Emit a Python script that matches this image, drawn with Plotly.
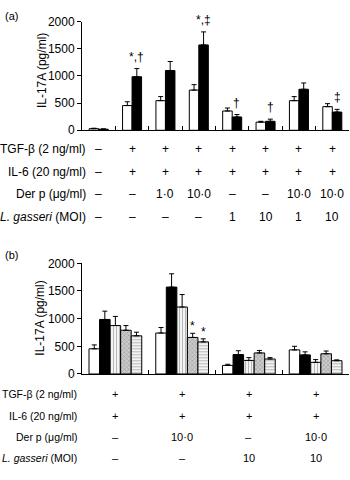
import plotly.graph_objects as go

W, H = 350, 480
FONT = "Liberation Sans, Arial, sans-serif"

# ---------------- Data: panel (a) ----------------
groups_a = [0, 1, 2, 3, 4, 5, 6, 7]
white_a = [30, 455, 545, 740, 355, 150, 545, 435]
white_a_err = [8, 70, 75, 100, 55, 15, 75, 55]
black_a = [20, 985, 1100, 1570, 245, 165, 755, 335]
black_a_err = [6, 150, 165, 240, 45, 40, 115, 50]
sig_a = ["", "*,†", "", "*,‡", "†", "†", "", "‡"]

tgf_a = ["–", "+", "+", "+", "+", "+", "+", "+"]
il6_a = ["–", "+", "+", "+", "+", "+", "+", "+"]
derp_a = ["–", "–", "1·0", "10·0", "–", "–", "10·0", "10·0"]
lg_a = ["–", "–", "–", "–", "1", "10", "1", "10"]

# ---------------- Data: panel (b) ----------------
groups_b = [0, 1, 2, 3]
white_b = [455, 740, 155, 435]
white_b_err = [70, 100, 20, 65]
black_b = [985, 1570, 350, 345]
black_b_err = [150, 240, 70, 55]
vert_b = [875, 1210, 245, 210]
vert_b_err = [165, 225, 50, 50]
grey_b = [790, 660, 380, 365]
grey_b_err = [85, 75, 45, 50]
horiz_b = [690, 580, 270, 240]
horiz_b_err = [65, 55, 25, 15]
sig_grey_b = ["", "*", "", ""]
sig_horiz_b = ["", "*", "", ""]

tgf_b = ["+", "+", "+", "+"]
il6_b = ["+", "+", "+", "+"]
derp_b = ["–", "10·0", "–", "10·0"]
lg_b = ["–", "–", "10", "10"]

row_labels = ["TGF-β (2 ng/ml)", "IL-6 (20 ng/ml)", "Der p (μg/ml)", "<i>L. gasseri</i> (MOI)"]

fig = go.Figure()


def add_bar(x, y, err, xaxis, yaxis, offset, width, color, pattern=None):
    marker = dict(color=color, line=dict(color="black", width=1))
    if pattern:
        marker["pattern"] = pattern
    fig.add_trace(go.Bar(
        x=x, y=y, xaxis=xaxis, yaxis=yaxis, offset=offset, width=width,
        marker=marker, showlegend=False, hoverinfo="skip",
        error_y=dict(type="data", array=err, arrayminus=[0] * len(err), symmetric=False,
                     color="black", thickness=1, width=2.5)))


# panel a bars
wa = 0.285
add_bar(groups_a, white_a, white_a_err, "x", "y", -wa, wa, "white")
add_bar(groups_a, black_a, black_a_err, "x", "y", 0, wa, "black")

# panel b bars
wb = 0.158
pat_v = dict(shape="|", fgcolor="#707070", bgcolor="white", size=3, solidity=0.45)
pat_g = dict(shape="x", fgcolor="#777777", bgcolor="#cccccc", size=3, solidity=0.4)
pat_h = dict(shape="-", fgcolor="#707070", bgcolor="white", size=3, solidity=0.45)
series_b = [
    (white_b, white_b_err, "white", None),
    (black_b, black_b_err, "black", None),
    (vert_b, vert_b_err, "white", pat_v),
    (grey_b, grey_b_err, "#aaaaaa", pat_g),
    (horiz_b, horiz_b_err, "white", pat_h),
]
for i, (vals, errs, col, pat) in enumerate(series_b):
    add_bar(groups_b, vals, errs, "x2", "y2", -2.5 * wb + i * wb, wb, col, pat)

TXT = dict(family=FONT, color="black")
annotations = []
# significance marks
for g, v, e, s in zip(groups_a, black_a, black_a_err, sig_a):
    if s:
        annotations.append(dict(x=g + wa / 2, y=v + e, xref="x", yref="y", text=s,
                                showarrow=False, yanchor="bottom", yshift=3,
                                font=dict(size=12, **TXT)))
for k, (vals, errs, sigs) in enumerate([(grey_b, grey_b_err, sig_grey_b),
                                        (horiz_b, horiz_b_err, sig_horiz_b)]):
    idx = 3 + k
    for g, v, e, s in zip(groups_b, vals, errs, sigs):
        if s:
            annotations.append(dict(x=g - 2.5 * wb + idx * wb + wb / 2, y=v + e, xref="x2", yref="y2",
                                    text=s, showarrow=False, yanchor="bottom", yshift=-2,
                                    font=dict(size=12, **TXT)))

# condition rows
rows_a_y = [146, 170, 193, 216]
rows_b_y = [399, 421, 443, 465]
for r, (lab, vals) in enumerate(zip(row_labels, [tgf_a, il6_a, derp_a, lg_a])):
    yy = 1 - rows_a_y[r] / H
    annotations.append(dict(x=88 / W, y=yy, xref="paper", yref="paper", text=lab,
                            showarrow=False, xanchor="right", yanchor="middle",
                            font=dict(size=12, **TXT)))
    for g, t in zip(groups_a, vals):
        annotations.append(dict(x=g, y=yy, xref="x", yref="paper", text=t, showarrow=False,
                                xanchor="center", yanchor="middle",
                                font=dict(size=12, **TXT)))
for r, (lab, vals) in enumerate(zip(row_labels, [tgf_b, il6_b, derp_b, lg_b])):
    yy = 1 - rows_b_y[r] / H
    annotations.append(dict(x=79 / W, y=yy, xref="paper", yref="paper", text=lab,
                            showarrow=False, xanchor="right", yanchor="middle",
                            font=dict(size=10.5, **TXT)))
    for g, t in zip(groups_b, vals):
        annotations.append(dict(x=g, y=yy, xref="x2", yref="paper", text=t, showarrow=False,
                                xanchor="center", yanchor="middle",
                                font=dict(size=11, **TXT)))

# panel letters and y titles
annotations.append(dict(x=3 / W, y=1 - 9 / H, xref="paper", yref="paper", text="(a)",
                        showarrow=False, xanchor="left", yanchor="middle", font=dict(size=11, **TXT)))
annotations.append(dict(x=3 / W, y=1 - 255 / H, xref="paper", yref="paper", text="(b)",
                        showarrow=False, xanchor="left", yanchor="middle", font=dict(size=11, **TXT)))
annotations.append(dict(x=42 / W, y=1 - 66 / H, xref="paper", yref="paper", text="IL-17A (pg/ml)",
                        showarrow=False, textangle=-90, xanchor="center", yanchor="middle",
                        font=dict(size=12, **TXT)))
annotations.append(dict(x=40 / W, y=1 - 321 / H, xref="paper", yref="paper", text="IL-17A (pg/ml)",
                        showarrow=False, textangle=-90, xanchor="center", yanchor="middle",
                        font=dict(size=12, **TXT)))

yticks = [0, 500, 1000, 1500, 2000]
common_y = dict(range=[0, 2000], tickvals=yticks, ticktext=[str(t) for t in yticks],
                showline=True, linecolor="black", linewidth=1, ticks="outside", ticklen=4,
                tickcolor="black", showgrid=False, zeroline=False,
                tickfont=dict(size=12, **TXT))
common_x = dict(ticks="inside", ticklen=4, tickcolor="black", showline=True, linecolor="black",
                linewidth=1, showgrid=False, zeroline=False)
fig.update_layout(
    width=W, height=H, margin=dict(l=0, r=0, t=0, b=0),
    paper_bgcolor="white", plot_bgcolor="white",
    barmode="overlay", hovermode=False,
    xaxis=dict(domain=[82 / W, 349 / W], range=[-0.5, 7.5], anchor="y",
               tickvals=[g + 0.5 for g in groups_a], ticktext=["" for _ in groups_a], **common_x),
    yaxis=dict(domain=[1 - 127 / H, 1 - 15 / H], anchor="x", **common_y),
    xaxis2=dict(domain=[82 / W, 349 / W], range=[-0.5, 3.5], anchor="y2",
                tickvals=[g + 0.5 for g in groups_b], ticktext=["" for _ in groups_b], **common_x),
    yaxis2=dict(domain=[1 - 378 / H, 1 - 264 / H], anchor="x2", **common_y),
    annotations=annotations,
)

fig.write_html("out.html", config={"displayModeBar": False, "staticPlot": True},
               post_script="document.body.style.margin='0';document.body.style.padding='0';"
                           "document.body.style.overflow='hidden';")
